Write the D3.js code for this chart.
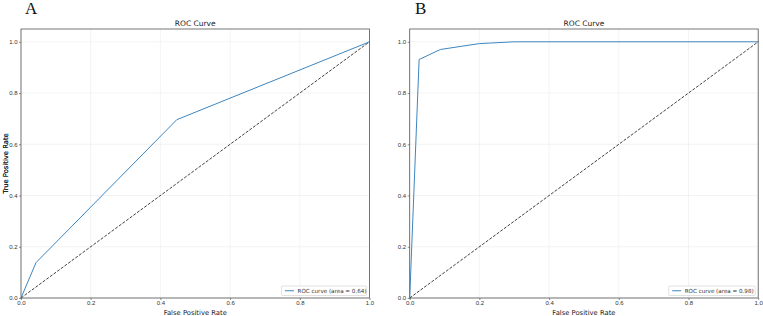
<!DOCTYPE html>
<html>
<head>
<meta charset="utf-8">
<script src="https://cdn.jsdelivr.net/npm/d3@7"></script>
<style>
  body { margin: 0; background: #fff; }
  svg { display: block; font-family: "DejaVu Sans", sans-serif; }
  .tick text { fill: #333; font-size: 6px; }
  .title { font-size: 7.5px; fill: #222; }
  .axis-label { font-size: 6.8px; fill: #222; }
  .panel-letter { font-family: "Liberation Serif", "DejaVu Serif", serif; font-size: 17px; fill: #111; }
  .legend-text { font-size: 5.6px; fill: #333; }
</style>
</head>
<body>
<svg width="763" height="316"></svg>
<script>
// panel A
const fprA = [0, 0.043, 0.447, 1];
const tprA = [0, 0.138, 0.696, 1];
const aucA = '0.64';
// panel B
const fprB = [0, 0.027, 0.088, 0.2, 0.3, 1];
const tprB = [0, 0.931, 0.970, 0.993, 1, 1];
const aucB = '0.98';

const tickValues = [0, 0.2, 0.4, 0.6, 0.8, 1.0];

const svg = d3.select('svg');

const panels = [
    { letter: 'A', fpr: fprA, tpr: tprA, auc: aucA, left: 21, letterX: 25 },
    { letter: 'B', fpr: fprB, tpr: tprB, auc: aucB, left: 409.7, letterX: 415 }
];

const plotW = 348.5;
const plotTop = 29;
const plotBottom = 298;

const render = p => {
    const innerHeight = plotBottom - plotTop;
    const xScale = d3.scaleLinear().domain([0, 1]).range([0, plotW]);
    const yScale = d3.scaleLinear().domain([0, 1.05]).range([innerHeight, 0]);

    svg.append('text')
        .attr('class', 'panel-letter')
        .attr('x', p.letterX)
        .attr('y', 14)
        .text(p.letter);

    const g = svg.append('g')
        .attr('transform', `translate(${p.left}, ${plotTop})`);

    // grid
    g.append('g').selectAll('line').data(tickValues)
        .enter().append('line')
            .attr('x1', d => xScale(d)).attr('x2', d => xScale(d))
            .attr('y1', 0).attr('y2', innerHeight)
            .attr('stroke', '#ebebeb').attr('stroke-width', 0.6);
    g.append('g').selectAll('line').data(tickValues)
        .enter().append('line')
            .attr('x1', 0).attr('x2', plotW)
            .attr('y1', d => yScale(d)).attr('y2', d => yScale(d))
            .attr('stroke', '#ebebeb').attr('stroke-width', 0.6);

    const yAxis = d3.axisLeft(yScale)
        .tickValues(tickValues)
        .tickFormat(d3.format('.1f'))
        .tickSize(2)
        .tickPadding(1.5);
    const yAxisG = g.append('g').call(yAxis);
    yAxisG.select('.domain').remove();
    yAxisG.selectAll('.tick line').attr('stroke', '#444').attr('stroke-width', 0.6);

    const xAxis = d3.axisBottom(xScale)
        .tickValues(tickValues)
        .tickFormat(d3.format('.1f'))
        .tickSize(2)
        .tickPadding(0.5);
    const xAxisG = g.append('g').call(xAxis)
        .attr('transform', `translate(0, ${innerHeight})`);
    xAxisG.select('.domain').remove();
    xAxisG.selectAll('.tick line').attr('stroke', '#444').attr('stroke-width', 0.6);

    // frame
    g.append('rect')
        .attr('width', plotW).attr('height', innerHeight)
        .attr('fill', 'none').attr('stroke', '#555').attr('stroke-width', 0.8);

    // chance line
    g.append('path')
        .datum([0, 1])
        .attr('d', d3.line().x(d => xScale(d)).y(d => yScale(d)))
        .attr('fill', 'none')
        .attr('stroke', '#111')
        .attr('stroke-width', 0.8)
        .attr('stroke-dasharray', '3,1.5');

    // roc curve
    const pts = p.fpr.map((f, i) => [f, p.tpr[i]]);
    g.append('path')
        .datum(pts)
        .attr('d', d3.line().x(d => xScale(d[0])).y(d => yScale(d[1])))
        .attr('fill', 'none')
        .attr('stroke', '#3d86c0')
        .attr('stroke-width', 1);

    g.append('text')
        .attr('class', 'title')
        .attr('text-anchor', 'middle')
        .attr('x', plotW / 2)
        .attr('y', -3)
        .text('ROC Curve');

    g.append('text')
        .attr('class', 'axis-label')
        .attr('text-anchor', 'middle')
        .attr('x', plotW / 2)
        .attr('y', innerHeight + 16.5)
        .text('False Positive Rate');

    g.append('text')
        .attr('class', 'axis-label')
        .attr('text-anchor', 'middle')
        .attr('transform', `translate(${-p.left + 7.5}, ${innerHeight / 2}) rotate(-90)`)
        .text('True Positive Rate');

    // legend
    const legW = p.letter === 'A' ? 85 : 86.5;
    const lg = g.append('g')
        .attr('transform', `translate(${plotW - legW - 3}, ${innerHeight - 12})`);
    lg.append('rect')
        .attr('width', legW).attr('height', 9.5)
        .attr('rx', 1)
        .attr('fill', '#fff').attr('stroke', '#ccc').attr('stroke-width', 0.6);
    lg.append('line')
        .attr('x1', 3.5).attr('x2', 12.5)
        .attr('y1', 4.75).attr('y2', 4.75)
        .attr('stroke', '#3d86c0').attr('stroke-width', 1);
    lg.append('text')
        .attr('class', 'legend-text')
        .attr('x', 16)
        .attr('y', 6.8)
        .text(`ROC curve (area = ${p.auc})`);
};

panels.forEach(render);
</script>
</body>
</html>
